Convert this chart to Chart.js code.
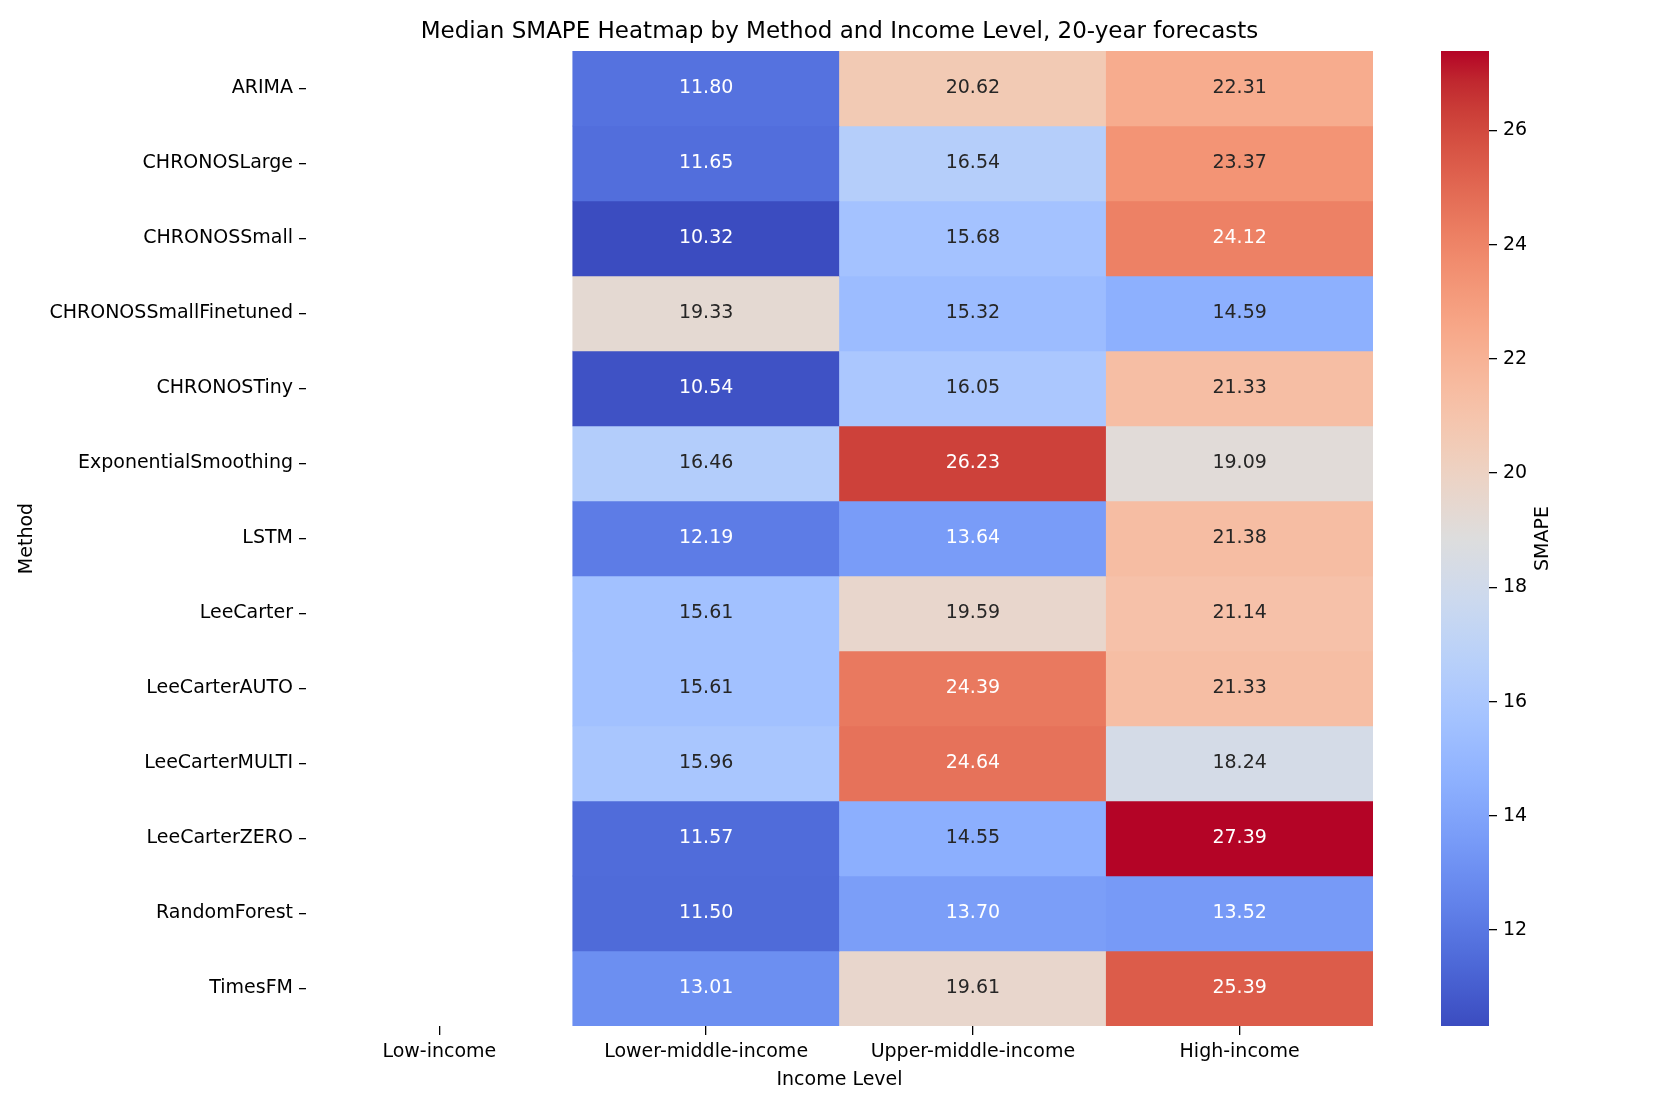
<!DOCTYPE html>
<html>
<head>
<meta charset="utf-8">
<script src="https://cdn.jsdelivr.net/npm/chart.js@4.4.1/dist/chart.umd.min.js"></script>
<style>
  body { margin: 0; background: #fff; }
  #wrap { position: relative; width: 1661px; height: 1107px; }
  #heat { position: absolute; left: 0; top: 0; }
  #cbar { position: absolute; left: 1441px; top: 0; }
</style>
</head>
<body>
<div id="wrap">
  <canvas id="heat" width="1661" height="1107"></canvas>
  <canvas id="cbar" width="220" height="1107"></canvas>
</div>
<script>
const chartTitle = "Median SMAPE Heatmap by Method and Income Level, 20-year forecasts";
const incomeLevels = ["Low-income", "Lower-middle-income", "Upper-middle-income", "High-income"];
const methods = ["ARIMA", "CHRONOSLarge", "CHRONOSSmall", "CHRONOSSmallFinetuned", "CHRONOSTiny",
  "ExponentialSmoothing", "LSTM", "LeeCarter", "LeeCarterAUTO", "LeeCarterMULTI",
  "LeeCarterZERO", "RandomForest", "TimesFM"];
// one array per income level, in the order of methods (Low-income has no data)
const lowIncome = [null, null, null, null, null, null, null, null, null, null, null, null, null];
const lowerMiddle = [11.80, 11.65, 10.32, 19.33, 10.54, 16.46, 12.19, 15.61, 15.61, 15.96, 11.57, 11.50, 13.01];
const upperMiddle = [20.62, 16.54, 15.68, 15.32, 16.05, 26.23, 13.64, 19.59, 24.39, 24.64, 14.55, 13.70, 19.61];
const highIncome = [22.31, 23.37, 24.12, 14.59, 21.33, 19.09, 21.38, 21.14, 21.33, 18.24, 27.39, 13.52, 25.39];
const cbarTicks = [12, 14, 16, 18, 20, 22, 24, 26];

const columns = [lowIncome, lowerMiddle, upperMiddle, highIncome];
const allVals = columns.flat().filter(v => v !== null);
const vmin = Math.min(...allVals), vmax = Math.max(...allVals);

// coolwarm colormap
const coolwarm = [
  [59,76,192],[68,90,204],[77,104,215],[87,117,225],[98,130,234],[108,142,241],[119,154,247],
  [130,165,251],[141,176,254],[152,185,255],[163,194,255],[174,201,253],[184,208,249],[194,213,244],
  [204,217,238],[213,219,230],[221,221,221],[229,216,209],[236,211,197],[241,204,184],[245,196,172],
  [247,187,160],[247,177,148],[247,166,135],[244,154,123],[241,141,111],[236,127,99],[229,112,88],
  [222,96,77],[213,80,66],[203,62,56],[192,40,47],[180,4,38]
];
function cmap(t) {
  t = Math.max(0, Math.min(1, t));
  const p = t * (coolwarm.length - 1);
  const i = Math.min(Math.floor(p), coolwarm.length - 2);
  const f = p - i;
  const a = coolwarm[i], b = coolwarm[i + 1];
  return [0, 1, 2].map(k => Math.round(a[k] + (b[k] - a[k]) * f));
}
function colorOf(v) {
  const c = cmap((v - vmin) / (vmax - vmin));
  return `rgb(${c[0]},${c[1]},${c[2]})`;
}
function lum(v) {
  const c = cmap((v - vmin) / (vmax - vmin)).map(x => {
    x = x / 255;
    return x <= 0.03928 ? x / 12.92 : Math.pow((x + 0.055) / 1.055, 2.4);
  });
  return 0.2126 * c[0] + 0.7152 * c[1] + 0.0722 * c[2];
}

const FONT = "'DejaVu Sans', sans-serif";
Chart.defaults.font.family = FONT;
Chart.defaults.color = "#000";

// one stacked bar segment per method row
const datasets = methods.map((m, r) => {
  const vals = columns.map(col => col[r]);
  return {
    label: m,
    data: vals.map(v => (v === null ? null : 1)),
    values: vals,
    backgroundColor: vals.map(v => (v === null ? "rgba(0,0,0,0)" : colorOf(v))),
    borderWidth: 0,
    categoryPercentage: 1,
    barPercentage: 1,
    stack: "s"
  };
});

const cellLabels = {
  id: "cellLabels",
  afterDatasetsDraw(chart) {
    const ctx = chart.ctx;
    ctx.save();
    ctx.font = "19px " + FONT;
    ctx.textAlign = "center";
    ctx.textBaseline = "middle";
    chart.data.datasets.forEach((ds, di) => {
      chart.getDatasetMeta(di).data.forEach((el, i) => {
        const v = ds.values[i];
        if (v === null) return;
        ctx.fillStyle = lum(v) > 0.408 ? "#262626" : "#ffffff";
        ctx.fillText(v.toFixed(2), el.x, (el.y + el.base) / 2);
      });
    });
    // title centred over the heatmap area
    const a = chart.chartArea;
    ctx.font = "23px " + FONT;
    ctx.fillStyle = "#000";
    ctx.fillText(chartTitle, (a.left + a.right) / 2, 32);
    ctx.restore();
  }
};

new Chart(document.getElementById("heat"), {
  type: "bar",
  data: { labels: incomeLevels, datasets: datasets },
  options: {
    responsive: false,
    animation: false,
    layout: { padding: { left: 0, right: 288, top: 51, bottom: 0 } },
    plugins: {
      legend: { display: false },
      tooltip: { enabled: false },
      title: { display: false }
    },
    scales: {
      x: {
        stacked: true,
        border: { display: false },
        grid: { offset: false, drawOnChartArea: false, drawTicks: true, tickLength: 9, color: "#000", lineWidth: 1.3 },
        ticks: { font: { size: 19 }, padding: 6, maxRotation: 0 },
        title: { display: true, text: "Income Level", font: { size: 19 }, padding: { top: 0, bottom: 16 } },
        afterFit(axis) { axis.height = 81; }
      },
      y: {
        type: "linear",
        stacked: true,
        reverse: true,
        min: 0,
        max: methods.length,
        border: { display: false },
        grid: { drawOnChartArea: false, drawTicks: true, tickLength: 7, color: "#000", lineWidth: 1.3 },
        afterBuildTicks(axis) { axis.ticks = methods.map((m, i) => ({ value: i + 0.5 })); },
        ticks: { font: { size: 19 }, padding: 6, autoSkip: false, callback: (v, i) => methods[i] },
        title: { display: true, text: "Method", font: { size: 19 }, padding: { top: 16, bottom: 0 } },
        afterFit(axis) { axis.width = 306; }
      }
    }
  },
  plugins: [cellLabels]
});

// colorbar
const cbarLabel = {
  id: "cbarLabel",
  afterDraw(chart) {
    const ctx = chart.ctx;
    const a = chart.chartArea;
    ctx.save();
    ctx.font = "19px " + FONT;
    ctx.fillStyle = "#000";
    ctx.textAlign = "center";
    ctx.textBaseline = "middle";
    ctx.translate(102, (a.top + a.bottom) / 2);
    ctx.rotate(-Math.PI / 2);
    ctx.fillText("SMAPE", 0, 0);
    ctx.restore();
  }
};

new Chart(document.getElementById("cbar"), {
  type: "bar",
  data: {
    labels: ["SMAPE"],
    datasets: [{
      data: [[vmin, vmax]],
      borderWidth: 0,
      categoryPercentage: 1,
      barPercentage: 1,
      backgroundColor(c) {
        const a = c.chart.chartArea;
        if (!a) return "#ccc";
        const g = c.chart.ctx.createLinearGradient(0, a.bottom, 0, a.top);
        for (let k = 0; k <= 32; k++) {
          const t = k / 32;
          const col = cmap(t);
          g.addColorStop(t, `rgb(${col[0]},${col[1]},${col[2]})`);
        }
        return g;
      }
    }]
  },
  options: {
    responsive: false,
    animation: false,
    layout: { padding: { left: 0, right: 0, top: 51, bottom: 81 } },
    plugins: { legend: { display: false }, tooltip: { enabled: false } },
    scales: {
      x: { display: false },
      y: {
        position: "right",
        min: vmin,
        max: vmax,
        border: { display: false },
        grid: { drawOnChartArea: false, drawTicks: true, tickLength: 8, color: "#000", lineWidth: 1.3 },
        afterBuildTicks(axis) { axis.ticks = cbarTicks.map(v => ({ value: v })); },
        ticks: { font: { size: 19 }, padding: 6 },
        afterFit(axis) { axis.width = 172; }
      }
    }
  },
  plugins: [cbarLabel]
});
</script>
</body>
</html>
